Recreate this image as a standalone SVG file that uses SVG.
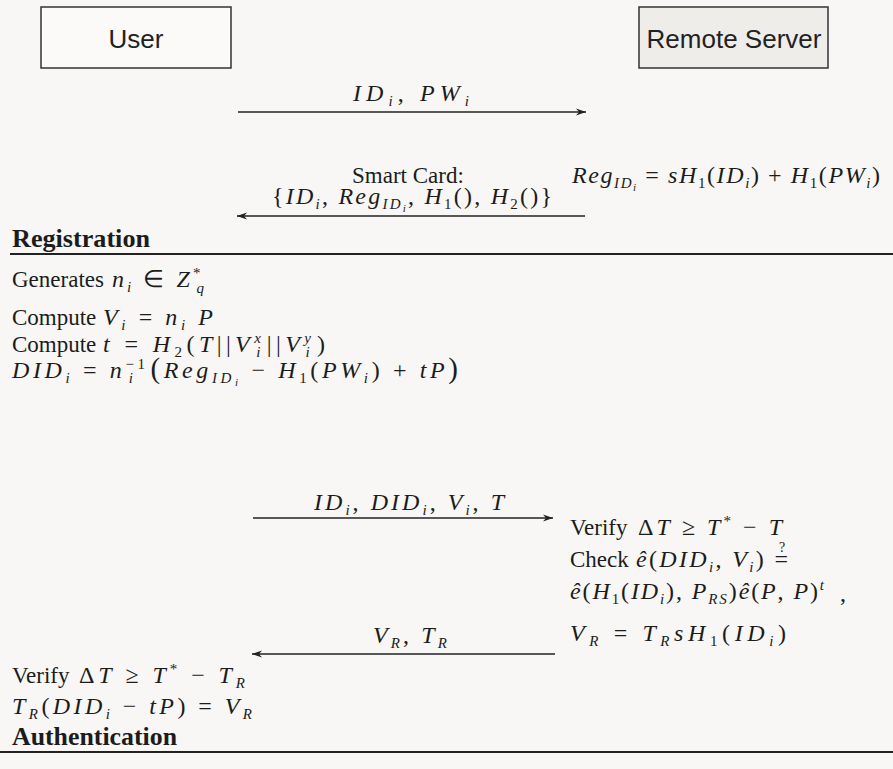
<svg xmlns="http://www.w3.org/2000/svg" width="893" height="769" viewBox="0 0 893 769">
<style>
.bg{fill:#f8f7f5}
.box{fill:#fbfaf8;stroke:#333;stroke-width:1.5}
.box2{fill:#efedea;stroke:#333;stroke-width:1.5}
.lbl{font-family:"Liberation Sans",Arial,sans-serif;font-size:26px;fill:#222}
.m{font-family:"Liberation Serif","Times New Roman",serif;font-size:24px;fill:#1c1c1c}
.w{font-family:"Liberation Serif","Times New Roman",serif;font-size:23px;fill:#1c1c1c}
.i{font-style:italic}
.s{font-size:15px}
.ss{font-size:11px}
.q{font-family:"Liberation Serif","Times New Roman",serif;font-size:14px;fill:#1c1c1c}
.b{font-family:"Liberation Serif","Times New Roman",serif;font-size:25px;font-weight:bold;fill:#1c1c1c}
.arr{stroke:#222;stroke-width:1.6;fill:none;marker-end:url(#ah)}
.rule{stroke:#222;stroke-width:2.2}
</style>
<defs>
<marker id="ah" markerUnits="userSpaceOnUse" markerWidth="12" markerHeight="8" refX="10" refY="4" orient="auto">
<path d="M0,0.5 L10,4 L0,7.5 L3,4 z" fill="#222"/>
</marker>
</defs>
<rect class="bg" x="0" y="0" width="893" height="769"/>
<g id="node-user">
<rect class="box" x="41" y="7" width="190" height="61"/>
<text class="lbl" x="136" y="48" text-anchor="middle">User</text>
</g>
<g id="node-server">
<rect class="box2" x="639" y="7" width="189" height="61"/>
<text class="lbl" x="734" y="48" text-anchor="middle">Remote Server</text>
</g>
<g id="connectors">
<line class="arr" x1="238" y1="112" x2="586" y2="112"/>
<line class="arr" x1="585" y1="216" x2="237" y2="216"/>
<line class="arr" x1="253" y1="518" x2="553" y2="518"/>
<line class="arr" x1="555" y1="654" x2="252" y2="654"/>
<line class="rule" x1="10" y1="254" x2="893" y2="254"/>
<line class="rule" x1="0" y1="752" x2="893" y2="752"/>
</g>
<g id="registration-texts">
<text class="m" x="411" y="101" text-anchor="middle" textLength="116"><tspan class="i">ID</tspan><tspan class="s i" dy="5">i</tspan><tspan dy="-5">, </tspan><tspan class="i">PW</tspan><tspan class="s i" dy="5">i</tspan></text>
<text class="w" x="352" y="183">Smart Card:</text>
<text class="m" x="572" y="183" textLength="308"><tspan class="i">Reg</tspan><tspan class="s i" dy="5">ID</tspan><tspan class="ss i" dy="3">i</tspan><tspan dy="-8"> = </tspan><tspan class="i">sH</tspan><tspan class="s" dy="5">1</tspan><tspan dy="-5">(</tspan><tspan class="i">ID</tspan><tspan class="s i" dy="5">i</tspan><tspan dy="-5">) + </tspan><tspan class="i">H</tspan><tspan class="s" dy="5">1</tspan><tspan dy="-5">(</tspan><tspan class="i">PW</tspan><tspan class="s i" dy="5">i</tspan><tspan dy="-5">)</tspan></text>
<text class="m" x="272" y="204" textLength="280">{<tspan class="i">ID</tspan><tspan class="s i" dy="5">i</tspan><tspan dy="-5">, </tspan><tspan class="i">Reg</tspan><tspan class="s i" dy="5">ID</tspan><tspan class="ss i" dy="3">i</tspan><tspan dy="-8">, </tspan><tspan class="i">H</tspan><tspan class="s" dy="5">1</tspan><tspan dy="-5">(), </tspan><tspan class="i">H</tspan><tspan class="s" dy="5">2</tspan><tspan dy="-5">()}</tspan></text>
<text class="b" x="12" y="247" textLength="138" lengthAdjust="spacingAndGlyphs">Registration</text>
</g>
<g id="user-computations">
<text class="w" x="12" y="287">Generates</text>
<text class="m" x="112" y="287" textLength="92"><tspan class="i">n</tspan><tspan class="s i" dy="5">i</tspan><tspan dy="-5"> ∈ </tspan><tspan class="i">Z</tspan><tspan class="s" dy="-9">*</tspan><tspan class="s i" dx="-7" dy="15">q</tspan></text>
<text class="w" x="12" y="325">Compute</text>
<text class="m" x="103" y="325" textLength="110"><tspan class="i">V</tspan><tspan class="s i" dy="5">i</tspan><tspan dy="-5"> = </tspan><tspan class="i">n</tspan><tspan class="s i" dy="5">i</tspan><tspan class="i" dy="-5"> P</tspan></text>
<text class="w" x="12" y="352">Compute</text>
<text class="m" x="103" y="352" textLength="222"><tspan class="i">t</tspan> = <tspan class="i">H</tspan><tspan class="s" dy="5">2</tspan><tspan dy="-5">(</tspan><tspan class="i">T</tspan>||<tspan class="i">V</tspan><tspan class="s i" dy="-9">x</tspan><tspan class="s i" dx="-9" dy="14">i</tspan><tspan dx="2" dy="-5">||</tspan><tspan class="i">V</tspan><tspan class="s i" dy="-9">y</tspan><tspan class="s i" dx="-10" dy="14">i</tspan><tspan dx="3" dy="-5">)</tspan></text>
<text class="m" x="12" y="378" textLength="446"><tspan class="i">DID</tspan><tspan class="s i" dy="5">i</tspan><tspan dy="-5"> = </tspan><tspan class="i">n</tspan><tspan class="s" dy="-9">−1</tspan><tspan class="s i" dx="-20" dy="14">i</tspan><tspan dx="14" dy="-5" font-size="29">(</tspan><tspan class="i">Reg</tspan><tspan class="s i" dy="5">ID</tspan><tspan class="ss i" dy="3">i</tspan><tspan dy="-8"> − </tspan><tspan class="i">H</tspan><tspan class="s" dy="5">1</tspan><tspan dy="-5">(</tspan><tspan class="i">PW</tspan><tspan class="s i" dy="5">i</tspan><tspan dy="-5">) + </tspan><tspan class="i">tP</tspan><tspan font-size="29">)</tspan></text>
</g>
<g id="authentication-texts">
<text class="m" x="409" y="510" text-anchor="middle" textLength="190"><tspan class="i">ID</tspan><tspan class="s i" dy="5">i</tspan><tspan dy="-5">, </tspan><tspan class="i">DID</tspan><tspan class="s i" dy="5">i</tspan><tspan dy="-5">, </tspan><tspan class="i">V</tspan><tspan class="s i" dy="5">i</tspan><tspan dy="-5">, </tspan><tspan class="i">T</tspan></text>
<text class="w" x="570" y="535">Verify</text>
<text class="m" x="638" y="535" textLength="144">Δ<tspan class="i">T</tspan> ≥ <tspan class="i">T</tspan><tspan class="s" dy="-9">*</tspan><tspan dy="9"> − </tspan><tspan class="i">T</tspan></text>
<text class="w" x="570" y="567">Check</text>
<text class="m" x="636" y="567" textLength="152"><tspan class="i">ê</tspan>(<tspan class="i">DID</tspan><tspan class="s i" dy="5">i</tspan><tspan dy="-5">, </tspan><tspan class="i">V</tspan><tspan class="s i" dy="5">i</tspan><tspan dy="-5">) =</tspan></text>
<text class="q" x="782" y="552" text-anchor="middle">?</text>
<text class="m" x="570" y="599" textLength="254"><tspan class="i">ê</tspan>(<tspan class="i">H</tspan><tspan class="s" dy="5">1</tspan><tspan dy="-5">(</tspan><tspan class="i">ID</tspan><tspan class="s i" dy="5">i</tspan><tspan dy="-5">), </tspan><tspan class="i">P</tspan><tspan class="s i" dy="5">RS</tspan><tspan dy="-5">)</tspan><tspan class="i">ê</tspan>(<tspan class="i">P</tspan>, <tspan class="i">P</tspan>)<tspan class="s i" dy="-9">t</tspan></text>
<text class="m" x="840" y="601">,</text>
<text class="m" x="570" y="641" textLength="216"><tspan class="i">V</tspan><tspan class="s i" dy="5">R</tspan><tspan dy="-5"> = </tspan><tspan class="i">T</tspan><tspan class="s i" dy="5">R</tspan><tspan class="i" dy="-5">sH</tspan><tspan class="s" dy="5">1</tspan><tspan dy="-5">(</tspan><tspan class="i">ID</tspan><tspan class="s i" dy="5">i</tspan><tspan dy="-5">)</tspan></text>
<text class="m" x="410" y="643" text-anchor="middle" textLength="74"><tspan class="i">V</tspan><tspan class="s i" dy="5">R</tspan><tspan dy="-5">, </tspan><tspan class="i">T</tspan><tspan class="s i" dy="5">R</tspan></text>
<text class="w" x="12" y="683">Verify</text>
<text class="m" x="79" y="683" textLength="166">Δ<tspan class="i">T</tspan> ≥ <tspan class="i">T</tspan><tspan class="s" dy="-9">*</tspan><tspan dy="9"> − </tspan><tspan class="i">T</tspan><tspan class="s i" dy="5">R</tspan></text>
<text class="m" x="12" y="714" textLength="240"><tspan class="i">T</tspan><tspan class="s i" dy="5">R</tspan><tspan dy="-5">(</tspan><tspan class="i">DID</tspan><tspan class="s i" dy="5">i</tspan><tspan dy="-5"> − </tspan><tspan class="i">tP</tspan>) = <tspan class="i">V</tspan><tspan class="s i" dy="5">R</tspan></text>
<text class="b" x="12" y="745" textLength="165" lengthAdjust="spacingAndGlyphs">Authentication</text>
</g>
</svg>
